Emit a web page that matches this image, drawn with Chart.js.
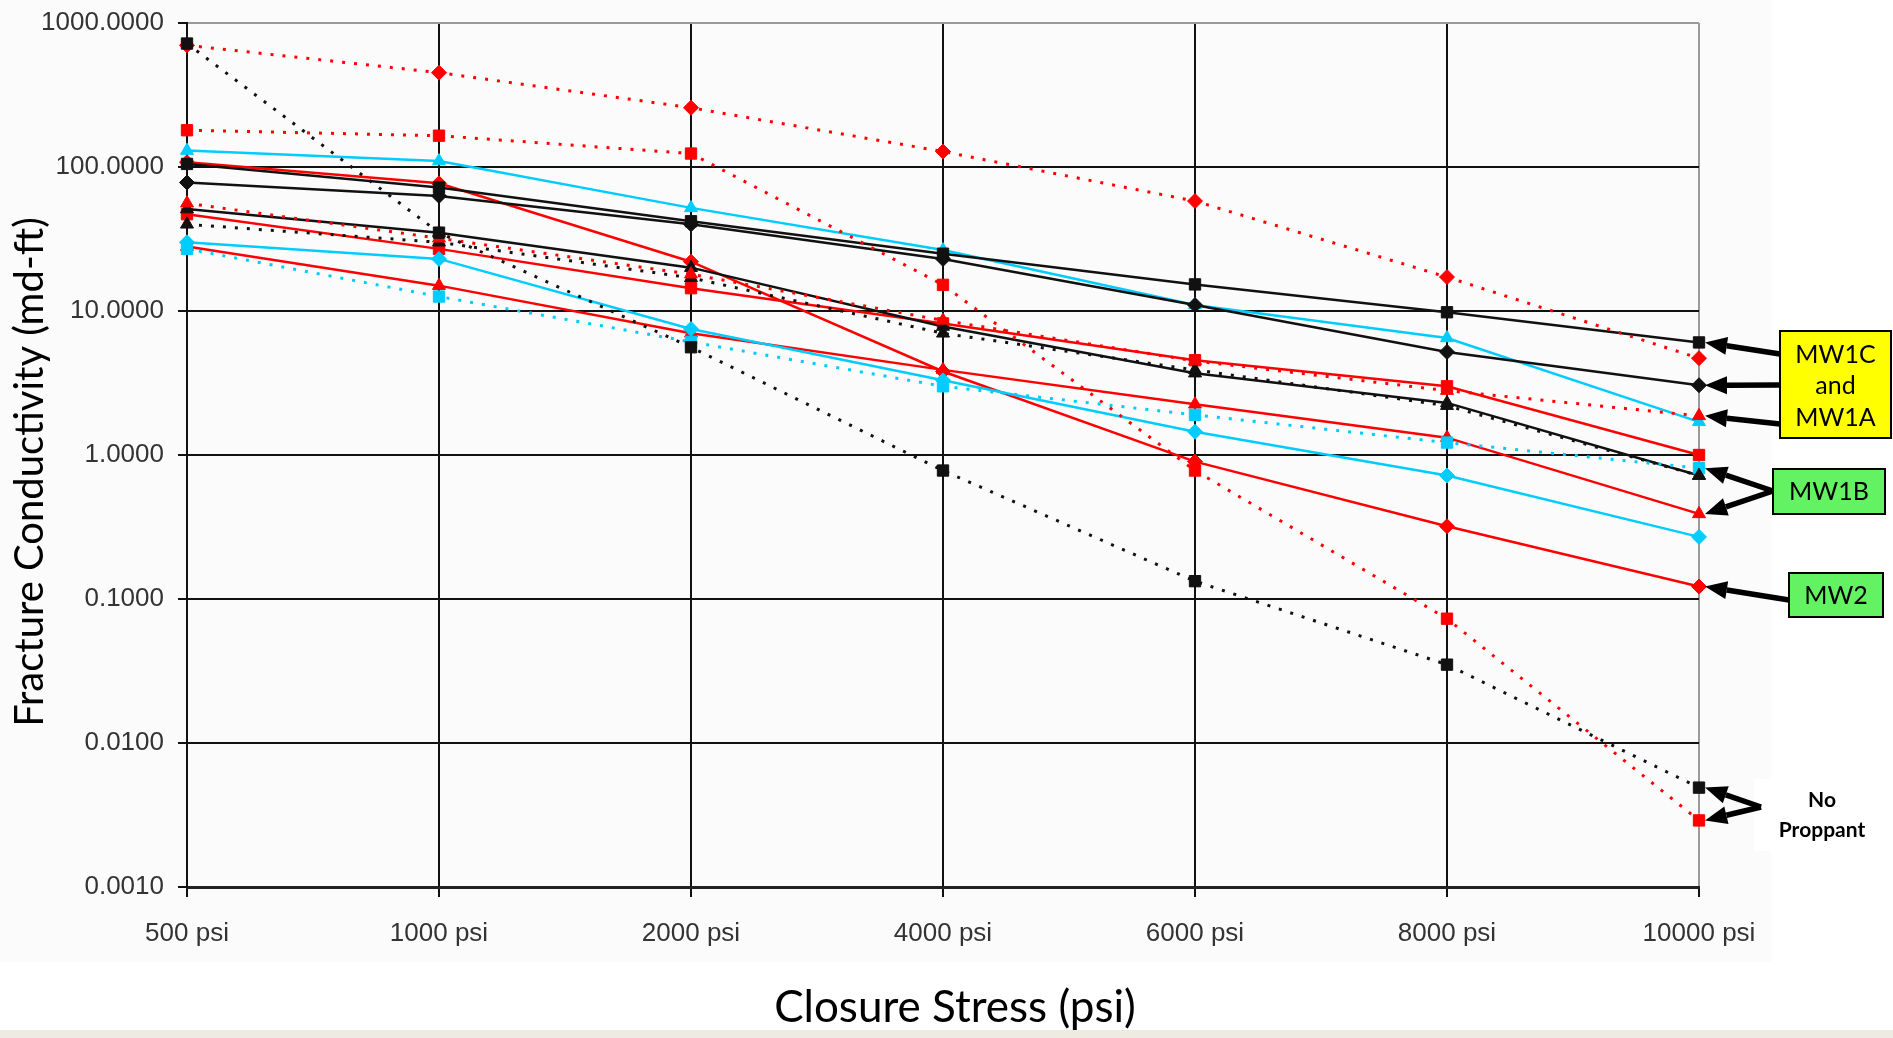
<!DOCTYPE html>
<html>
<head>
<meta charset="utf-8">
<title>Fracture Conductivity vs Closure Stress</title>
<script src="https://cdn.jsdelivr.net/npm/chart.js@4.4.1/dist/chart.umd.min.js"></script>
<style>
  html, body { margin: 0; padding: 0; background: #ffffff; }
  #wrap { position: relative; width: 1893px; height: 1038px; }
</style>
</head>
<body>
<div id="wrap"><canvas id="chart" width="1893" height="1038"></canvas></div>
<script>
// categories / ticks
const categories = ['500 psi', '1000 psi', '2000 psi', '4000 psi', '6000 psi', '8000 psi', '10000 psi'];
const yTicks = [0.001, 0.01, 0.1, 1, 10, 100, 1000];

// series values (md-ft)
const noPropBlack     = [720, 35, 5.6, 0.78, 0.133, 0.035, 0.0049];
const noPropRed       = [180, 165, 124, 15.2, 0.78, 0.073, 0.0029];
const redDotDiamond   = [700, 452, 258, 128, 58, 17.2, 4.7];
const blackSquare     = [105, 72, 42, 25, 15.3, 9.8, 6.05];
const blackDiamond    = [78, 63, 40, 23, 11, 5.2, 3.05];
const cyanTriangle    = [130, 110, 52, 26.5, 11, 6.5, 1.7];
const redDotTriangle  = [56, 32, 18, 8.6, 4.5, 2.8, 1.87];
const redSquare       = [47, 27, 14.4, 8.2, 4.55, 3.0, 1.0];
const blackTriangle   = [51, 35, 20, 7.8, 3.7, 2.3, 0.72];
const blackDotStar    = [40, 30, 17, 7.0, 3.9, 2.2, 0.72];
const cyanDotSquare   = [27, 12.6, 6.1, 3.0, 1.9, 1.22, 0.81];
const redTriangle     = [28, 15, 7.0, 3.9, 2.25, 1.32, 0.39];
const cyanDiamond     = [30, 23, 7.5, 3.3, 1.45, 0.72, 0.27];
const redDiamond      = [108, 77, 22, 3.8, 0.9, 0.32, 0.122];

const RED = '#ff0000';
const CYAN = '#00ccff';
const BLACK = '#111111';

const tickFont = { family: "'Liberation Sans', Arial, sans-serif", size: 26 };
const titleFamily = "Lato, 'Open Sans', sans-serif";

// ひとつのシリーズを作る
function series(label, data, color, dotted, marker, radius) {
    return {
        label: label,
        data: data,
        borderColor: color,
        backgroundColor: color,
        borderWidth: dotted ? 3 : 2.5,
        borderDash: dotted ? [3, 9] : [],
        borderCapStyle: 'butt',
        tension: 0,
        fill: false,
        pointStyle: marker,
        pointRadius: radius,
        pointBorderWidth: 1,
        pointBorderColor: color,
        pointBackgroundColor: color
    };
}

const datasets = [
    series('noPropBlack', noPropBlack, BLACK, true, 'rect', 8),
    series('noPropRed', noPropRed, RED, true, 'rect', 8),
    series('redDotDiamond', redDotDiamond, RED, true, 'rectRot', 7.5),
    series('redDotTriangle', redDotTriangle, RED, true, 'triangle', 7.5),
    series('blackDotStar', blackDotStar, BLACK, true, 'triangle', 7.5),
    series('cyanDotSquare', cyanDotSquare, CYAN, true, 'rect', 8),
    series('blackSquare', blackSquare, BLACK, false, 'rect', 8),
    series('blackDiamond', blackDiamond, BLACK, false, 'rectRot', 7.5),
    series('blackTriangle', blackTriangle, BLACK, false, 'triangle', 7.5),
    series('cyanTriangle', cyanTriangle, CYAN, false, 'triangle', 7.5),
    series('cyanDiamond', cyanDiamond, CYAN, false, 'rectRot', 7.5),
    series('redSquare', redSquare, RED, false, 'rect', 8),
    series('redTriangle', redTriangle, RED, false, 'triangle', 7.5),
    series('redDiamond', redDiamond, RED, false, 'rectRot', 7.5)
];

// 右側の吹き出し（ラベル箱と矢印）
const callouts = [
    { box: [1780, 331, 111, 107], fill: '#ffff00', lines: ['MW1C', 'and', 'MW1A'], textY: [355, 386, 418],
      arrows: [[1780, 354, 'blackSquare'], [1780, 385, 'blackDiamond'], [1780, 424, 'redDotTriangle']] },
    { box: [1773, 469, 112, 45], fill: '#62f262', lines: ['MW1B'], textY: [492],
      arrows: [[1773, 491, 'cyanDotSquare'], [1773, 491, 'redTriangle']] },
    { box: [1789, 573, 94, 44], fill: '#62f262', lines: ['MW2'], textY: [596],
      arrows: [[1789, 600, 'redDiamond']] },
    { box: null, lines: ['No', 'Proppant'], textY: [800, 830], bold: true,
      arrows: [[1761, 807, 'noPropBlack'], [1761, 807, 'noPropRed']] }
];

function drawArrow(ctx, x0, y0, x1, y1) {
    const ang = Math.atan2(y1 - y0, x1 - x0);
    const head = 22, half = 9;
    const bx = x1 - Math.cos(ang) * head;
    const by = y1 - Math.sin(ang) * head;
    ctx.beginPath();
    ctx.moveTo(x0, y0);
    ctx.lineTo(bx, by);
    ctx.lineWidth = 5.5;
    ctx.strokeStyle = '#000';
    ctx.stroke();
    ctx.beginPath();
    ctx.moveTo(x1, y1);
    ctx.lineTo(bx + Math.sin(ang) * half, by - Math.cos(ang) * half);
    ctx.lineTo(bx - Math.sin(ang) * half, by + Math.cos(ang) * half);
    ctx.closePath();
    ctx.fillStyle = '#000';
    ctx.fill();
}

const calloutPlugin = {
    id: 'callouts',
    beforeDraw(chart) {
        const ctx = chart.ctx;
        ctx.save();
        ctx.fillStyle = '#fbfbfb';
        ctx.fillRect(0, 0, 1771, 962);
        ctx.fillStyle = '#ffffff';
        ctx.fillRect(1754, 779, 139, 72);
        ctx.fillStyle = '#eeebe3';
        ctx.fillRect(0, 1030, 1893, 8);
        ctx.restore();
    },
    afterDraw(chart) {
        const ctx = chart.ctx;
        const last = categories.length - 1;
        ctx.save();

        // 軸タイトル
        ctx.fillStyle = '#000';
        ctx.textAlign = 'center';
        ctx.textBaseline = 'middle';
        ctx.font = '44px ' + titleFamily;
        ctx.fillText('Closure Stress (psi)', 955, 1008);
        ctx.save();
        ctx.translate(30, 472);
        ctx.rotate(-Math.PI / 2);
        ctx.font = '40px ' + titleFamily;
        ctx.fillText('Fracture Conductivity (md-ft)', 0, 0);
        ctx.restore();

        callouts.forEach(c => {
            c.arrows.forEach(a => {
                const idx = datasets.findIndex(d => d.label === a[2]);
                const pt = chart.getDatasetMeta(idx).data[last];
                drawArrow(ctx, a[0], a[1], pt.x + 6, pt.y);
            });
            if (c.box) {
                const [bx, by, bw, bh] = c.box;
                ctx.fillStyle = c.fill;
                ctx.fillRect(bx, by, bw, bh);
                ctx.lineWidth = 2;
                ctx.strokeStyle = '#000';
                ctx.strokeRect(bx, by, bw, bh);
            }
            ctx.fillStyle = '#000';
            ctx.font = (c.bold ? 'bold 21px ' : '25px ') + titleFamily;
            const cx = c.box ? c.box[0] + c.box[2] / 2 : 1822;
            c.lines.forEach((t, i) => ctx.fillText(t, cx, c.textY[i]));
        });
        ctx.restore();
    }
};

const chart = new Chart(document.getElementById('chart').getContext('2d'), {
    type: 'line',
    data: { labels: categories, datasets: datasets },
    plugins: [calloutPlugin],
    options: {
        responsive: false,
        devicePixelRatio: 1,
        animation: false,
        layout: { padding: { left: 0, top: 23, right: 194, bottom: 0 } },
        plugins: { legend: { display: false }, tooltip: { enabled: false } },
        scales: {
            x: {
                offset: false,
                afterFit: (s) => { s.height = 151; },
                ticks: { font: tickFont, color: '#333', padding: 21, autoSkip: false, maxRotation: 0 },
                grid: {
                    color: (c) => c.index === categories.length - 1 ? '#9a9a9a' : BLACK,
                    lineWidth: 2,
                    tickLength: 10,
                    tickColor: BLACK
                },
                border: { color: '#222', width: 3 }
            },
            y: {
                type: 'logarithmic',
                min: 0.001,
                max: 1000,
                afterBuildTicks: (s) => { s.ticks = yTicks.map(v => ({ value: v })); },
                // ラベルのはみ出し分で描画領域が縮まないようにする
                afterFit: (s) => { s.width = 187; s.paddingTop = 0; s.paddingBottom = 0; },
                ticks: {
                    font: tickFont,
                    color: '#333',
                    padding: 14,
                    callback: (v) => Number(v).toFixed(4)
                },
                grid: {
                    color: (c) => c.tick && c.tick.value === 1000 ? '#9a9a9a' : BLACK,
                    lineWidth: 2,
                    tickLength: 9,
                    tickColor: BLACK
                },
                border: { color: BLACK, width: 2 }
            }
        }
    }
});
</script>
</body>
</html>
